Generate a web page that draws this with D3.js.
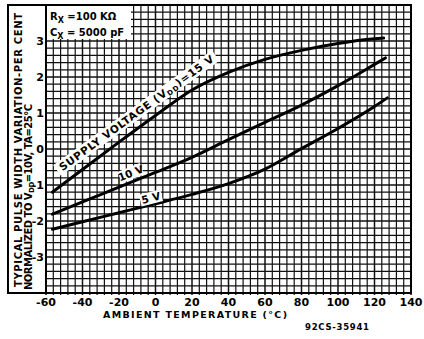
<!DOCTYPE html>
<html><head><meta charset="utf-8">
<script src="https://cdn.jsdelivr.net/npm/d3@7"></script>
<style>
body{margin:0;background:#fff}
text{font-family:"DejaVu Sans",sans-serif;font-weight:bold;fill:#000}
</style>
</head><body>
<svg id="c" width="424" height="339"></svg>
<script>
// ---- data ----
const xTickLabels = [-60,-40,-20,0,20,40,60,80,100,120,140];
const yTickLabels = [-3,-2,-1,0,1,2,3];
const temps15 = [-56.5,-40,-20,0,20,40,60,80,100,120,125];
const vals15  = [-1.2,-0.57,0.19,0.93,1.64,2.13,2.49,2.74,2.93,3.06,3.08];
const temps10 = [-56.5,-40,-20,0,20,40,60,80,100,120,126];
const vals10  = [-1.81,-1.47,-1.06,-0.65,-0.23,0.26,0.74,1.22,1.76,2.35,2.53];
const temps5  = [-56.5,-40,-20,0,20,40,60,80,100,120,127];
const vals5   = [-2.23,-2.02,-1.77,-1.52,-1.26,-0.96,-0.56,0.01,0.57,1.18,1.42];

const svg = d3.select("#c");
const L=46, R=411, T=5, B=293;
const x = d3.scaleLinear().domain([-60,140]).range([L,R]);
const y = d3.scaleLinear().domain([-4,4]).range([B,T]);

// grid
const g = svg.append("g");
g.selectAll("line.v").data(d3.range(-60,140.001,4)).join("line")
  .attr("x1",d=>x(d)).attr("x2",d=>x(d)).attr("y1",T).attr("y2",B+2)
  .attr("stroke","#111").attr("stroke-width",d=>d%20===0?1.5:1.2);
g.selectAll("line.h").data(d3.range(-4,4.001,0.2)).join("line")
  .attr("x1",L).attr("x2",R).attr("y1",d=>y(d)).attr("y2",d=>y(d))
  .attr("stroke","#111").attr("stroke-width",d=>Math.abs(d-Math.round(d))<1e-6?1.5:1.2);

// legend box (white)
svg.append("rect").attr("x",L+1).attr("y",T+1).attr("width",84).attr("height",33).attr("fill","#fff");
const lg = svg.append("g");
const t1 = lg.append("text").attr("x",50).attr("y",20).attr("font-size",10);
t1.append("tspan").text("R");
t1.append("tspan").attr("dy",3).attr("font-size",8).text("X");
t1.append("tspan").attr("dy",-3).text(" =100 KΩ");
const t2 = lg.append("text").attr("x",50).attr("y",36).attr("font-size",10);
t2.append("tspan").text("C");
t2.append("tspan").attr("dy",3).attr("font-size",8).text("X");
t2.append("tspan").attr("dy",-3).text(" = 5000 pF");

// frames
svg.append("rect").attr("x",8).attr("y",T).attr("width",R-8).attr("height",B-T)
  .attr("fill","none").attr("stroke","#000").attr("stroke-width",2);
svg.append("line").attr("x1",L).attr("x2",L).attr("y1",T).attr("y2",B)
  .attr("stroke","#000").attr("stroke-width",2);

// curves
const line = d3.line().x(d=>x(d[0])).y(d=>y(d[1])).curve(d3.curveMonotoneX);
const series = [[temps15,vals15],[temps10,vals10],[temps5,vals5]];
series.forEach(([t,v])=>{
  svg.append("path").attr("d",line(t.map((d,i)=>[d,v[i]])))
    .attr("fill","none").attr("stroke","#000").attr("stroke-width",3).attr("stroke-linecap","round");
});

// curve labels
function label(cx,cy,ang,w,h,build,fs,len){
  const gg = svg.append("g").attr("transform",`translate(${cx},${cy}) rotate(${ang})`);
  gg.append("rect").attr("x",-w/2).attr("y",-h/2).attr("width",w).attr("height",h).attr("fill","#fff");
  const tx = gg.append("text").attr("text-anchor","middle").attr("y",fs*0.36).attr("font-size",fs);
  if(len) tx.attr("textLength",len).attr("lengthAdjust","spacing");
  build(tx);
}
label(x(-10.5),y(1.0),-36,196,13,t=>{
  t.append("tspan").text("SUPPLY VOLTAGE (V");
  t.append("tspan").attr("font-size",7).attr("dy",2).text("DD");
  t.append("tspan").attr("dy",-2).text(")=15 V");
},10.5,188);
label(x(-13.5),y(-0.67),-22,24,12,t=>t.text("10 V"),10.5);
label(x(-2.5),y(-1.36),-14,22,12,t=>t.text("5 V"),10.5);

// y tick labels
svg.selectAll("text.yt").data(yTickLabels).join("text")
  .attr("x",44).attr("y",d=>y(d)+4).attr("text-anchor","end").attr("font-size",11)
  .text(d=>d);
// x tick labels
svg.selectAll("text.xt").data(xTickLabels).join("text")
  .attr("x",d=>x(d)).attr("y",306).attr("text-anchor","middle").attr("font-size",11)
  .text(d=>d);

// axis titles
svg.append("text").attr("x",195).attr("y",318).attr("text-anchor","middle").attr("font-size",9.5)
  .attr("textLength",184).attr("lengthAdjust","spacing").text("AMBIENT TEMPERATURE (°C)");
const yt = svg.append("g").attr("transform","rotate(-90)");
yt.append("text").attr("x",-150).attr("y",22).attr("text-anchor","middle").attr("font-size",10)
  .attr("textLength",274).attr("lengthAdjust","spacing").text("TYPICAL PULSE WIDTH VARIATION-PER CENT");
const y2 = yt.append("text").attr("x",-197).attr("y",32).attr("text-anchor","middle").attr("font-size",10)
  .attr("textLength",186).attr("lengthAdjust","spacing");
y2.append("tspan").text("NORMALIZED TO V");
y2.append("tspan").attr("font-size",7).attr("dy",2).text("DD");
y2.append("tspan").attr("dy",-2).text("=10V, TA=25°C");

svg.append("text").attr("x",337).attr("y",330).attr("text-anchor","middle").attr("font-size",8.5)
  .attr("textLength",64).attr("lengthAdjust","spacing").text("92CS-35941");
</script>
</body></html>
